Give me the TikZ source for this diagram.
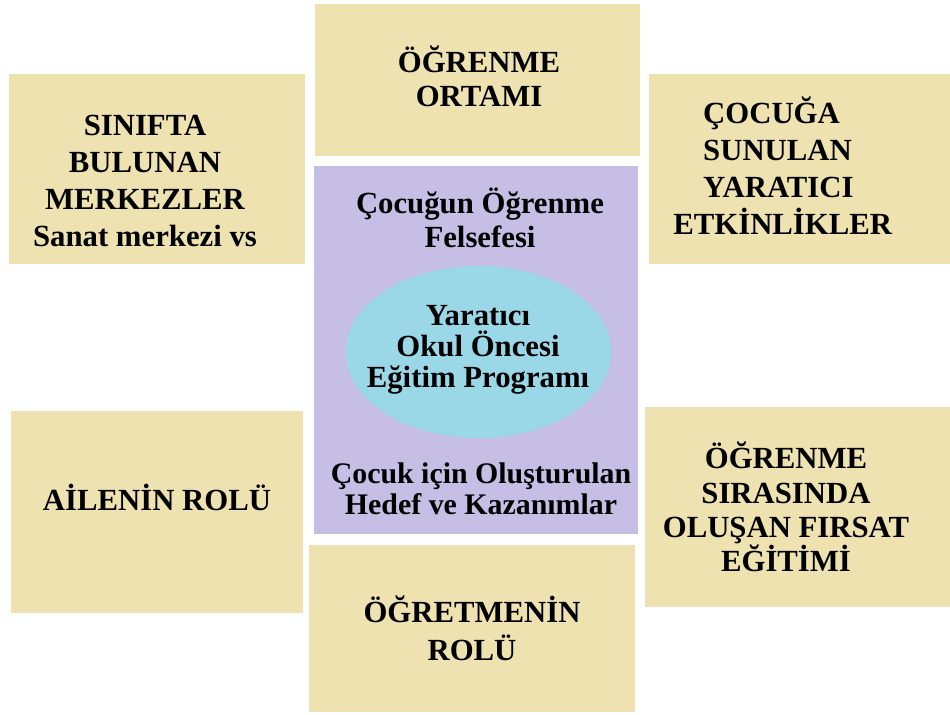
\documentclass[tikz,border=0pt]{standalone}
\usepackage{fontspec}
\setmainfont{Liberation Serif}
\usepackage{tikz}
\usepackage{xcolor}

\definecolor{kumbej}{HTML}{EDE2B0}
\definecolor{lila}{HTML}{C6BEE5}
\definecolor{acikmavi}{HTML}{9AD8E7}

\tikzset{
    etiket/.style={font=\bfseries\fontsize{17.5}{#1}\selectfont, align=center, inner sep=0pt},
    etiket/.default=21
}

\begin{document}
\begin{tikzpicture}[x=0.02cm, y=-0.02cm]
    \useasboundingbox (0,0) rectangle (950,715);

    % Outer boxes
    \foreach \xa/\ya/\xb/\yb in {315/4/640/156, 9/74/305/264, 649/74/950/264,
                                 11/411/303/613, 645/407/950/607, 309/545/635/712} {
        \fill[kumbej] (\xa,\ya) rectangle (\xb,\yb);
    }

    % Centre block and ellipse
    \fill[lila] (314,166) rectangle (638,534);
    \fill[acikmavi] (478.5,352) ellipse [x radius=133, y radius=86];

    % Labels of the outer boxes
    \node[etiket=19.5] (ortam) at (479,76) {ÖĞRENME\\ORTAMI};
    \node[etiket] (merkez) at (145,181) {SINIFTA\\BULUNAN\\MERKEZLER\\Sanat merkezi vs};
    \node[etiket, align=left, anchor=west] (etkinlik) at (673,166)
        {\hspace*{17pt}ÇOCUĞA\\\hspace*{17pt}SUNULAN\\\hspace*{17pt}YARATICI\\ETKİNLİKLER};
    \node[etiket] (aile) at (157,497) {AİLENİN ROLÜ};
    \node[etiket=19.5] (firsat) at (786,507) {ÖĞRENME\\SIRASINDA\\OLUŞAN FIRSAT\\EĞİTİMİ};
    \node[etiket=21.5] (ogretmen) at (472,628) {ÖĞRETMENİN\\ROLÜ};

    % Labels of the centre
    \node[etiket=19] (felsefe) at (480,218) {Çocuğun Öğrenme\\Felsefesi};
    \node[etiket=17.6] (program) at (478,350) {Yaratıcı\\Okul Öncesi\\Eğitim Programı};
    \node[etiket=17.5, font=\bfseries\fontsize{17}{17.5}\selectfont] (hedef) at (481,489)
        {Çocuk için Oluşturulan\\Hedef ve Kazanımlar};
\end{tikzpicture}
\end{document}
